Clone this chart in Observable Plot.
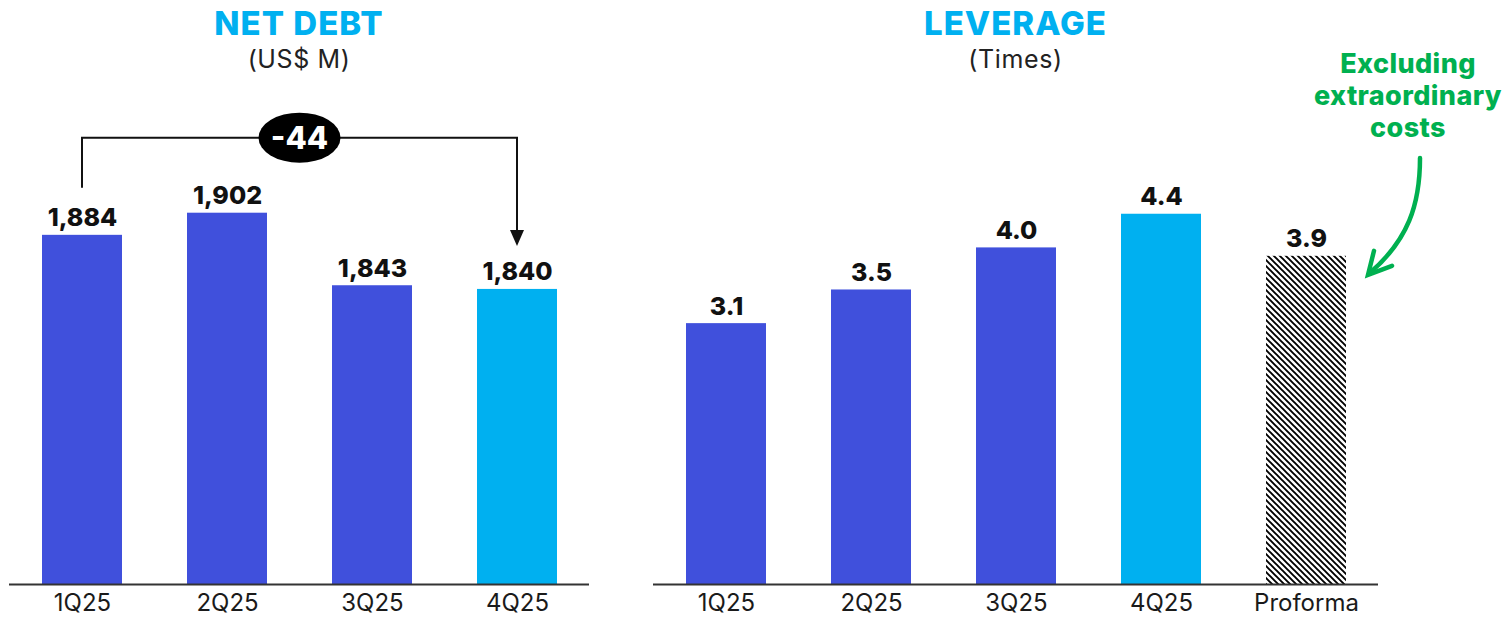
<!DOCTYPE html>
<html>
<head>
<meta charset="utf-8">
<script src="https://cdn.jsdelivr.net/npm/d3@7"></script>
<script src="https://cdn.jsdelivr.net/npm/@observablehq/plot@0.6"></script>
<style>
  html, body { margin: 0; padding: 0; background: #fff; }
  #wrap { position: relative; width: 1510px; height: 617px; overflow: hidden; font-family: Inter, "Noto Sans", sans-serif; }
  .panel { position: absolute; top: 0; }
  .title { position: absolute; text-align: center; font-weight: 800; color: #00B0F0; font-size: 33px; line-height: 36px; letter-spacing: 1px; pointer-events: none; }
  .sub { position: absolute; text-align: center; font-weight: 400; color: #222; font-size: 25px; line-height: 28px; letter-spacing: 0.6px; pointer-events: none; }
</style>
</head>
<body>
<div id="wrap">
  <div class="panel" id="left" style="left:0px"></div>
  <div class="panel" id="right" style="left:640px"></div>
  <div class="title" style="left:0;width:598px;top:5px">NET DEBT</div>
  <div class="sub" style="left:0;width:598px;top:45px">(US$ M)</div>
  <div class="title" style="left:653px;width:725px;top:5px">LEVERAGE</div>
  <div class="sub" style="left:653px;width:725px;top:45px">(Times)</div>
</div>
<script>
// ---- data ----
const debtQuarters = ["1Q25", "2Q25", "3Q25", "4Q25"];
const netDebt = [1884, 1902, 1843, 1840];
const netDebtAxisMin = 1600;
const netDebtAxisMax = 2075;

const leverageCategories = ["1Q25", "2Q25", "3Q25", "4Q25", "Proforma"];
const leverage = [3.1, 3.5, 4.0, 4.4, 3.9];
const leverageAxisMax = 6.94;

const noteLines = ["Excluding", "extraordinary", "costs"];

// ---- styles ----
const BLUE = "#4050DC", CYAN = "#00B0F0", GREEN = "#00B050", INK = "#111";
const FONT = "Inter, 'Noto Sans', sans-serif";

const debtData = debtQuarters.map((q, i) => ({q, v: netDebt[i]}));
const levData = leverageCategories.map((q, i) => ({q, v: leverage[i]}));

function fillFor(q) {
  if (q === "4Q25") return CYAN;
  if (q === "Proforma") return "url(#hatch)";
  return BLUE;
}

// ---- left chart: Net debt ----
const left = Plot.plot({
  width: 600, height: 617,
  marginLeft: 9, marginRight: 11, marginTop: 0, marginBottom: 33,
  style: {fontFamily: FONT, background: "transparent", overflow: "visible"},
  x: {domain: debtQuarters, paddingInner: 0.45, paddingOuter: 0.225, label: null},
  y: {domain: [netDebtAxisMin, netDebtAxisMax], axis: null},
  marks: [
    Plot.barY(debtData, {x: "q", y1: () => netDebtAxisMin, y2: "v", fill: d => fillFor(d.q)}),
    Plot.text(debtData, {x: "q", y: "v", text: d => d3.format(",")(d.v), dy: -9, lineAnchor: "bottom",
      fontSize: 25, fontWeight: 800, fill: INK}),
    Plot.ruleY([netDebtAxisMin], {stroke: "#333", strokeWidth: 2}),
    Plot.axisX({tickSize: 0, tickPadding: 9, fontSize: 24, label: null, fill: "#1a1a1a"})
  ]
});
document.getElementById("left").appendChild(left);

// bracket annotation for change
{
  const xs = left.scale("x"), ys = left.scale("y");
  const bw = xs.bandwidth;
  const first = debtData[0], last = debtData[debtData.length - 1];
  const maxV = d3.max(netDebt);
  const x1 = xs.apply(first.q) + bw / 2;
  const x4 = xs.apply(last.q) + bw / 2;
  const yStart = ys.apply(first.v) - 47;
  const yTop = ys.apply(maxV) - 75;
  const tip = ys.apply(last.v) - 43;
  const svg = d3.select(left);
  const g = svg.append("g");
  g.append("path")
    .attr("d", `M${x1},${yStart}V${yTop}H${x4}V${tip - 14}`)
    .attr("fill", "none").attr("stroke", INK).attr("stroke-width", 2);
  g.append("path")
    .attr("d", `M${x4 - 7},${tip - 16}L${x4 + 7},${tip - 16}L${x4},${tip}Z`)
    .attr("fill", INK);
  const cx = (x1 + x4) / 2;
  g.append("ellipse").attr("cx", cx).attr("cy", yTop).attr("rx", 41).attr("ry", 25).attr("fill", "#000");
  g.append("text").attr("x", cx).attr("y", yTop).attr("dy", "0.36em")
    .attr("text-anchor", "middle").attr("fill", "#fff")
    .attr("font-size", 31).attr("font-weight", 800).attr("font-family", FONT)
    .text(String(last.v - first.v));
}

// ---- right chart: Leverage ----
const right = Plot.plot({
  width: 870, height: 617,
  marginLeft: 13, marginRight: 132, marginTop: 0, marginBottom: 33,
  style: {fontFamily: FONT, background: "transparent", overflow: "visible"},
  x: {domain: leverageCategories, paddingInner: 0.45, paddingOuter: 0.225, label: null},
  y: {domain: [0, leverageAxisMax], axis: null},
  color: {type: "identity"},
  marks: [
    Plot.barY(levData, {x: "q", y: "v", fill: d => fillFor(d.q)}),
    Plot.text(levData, {x: "q", y: "v", text: d => d3.format(".1f")(d.v), dy: -9, lineAnchor: "bottom",
      fontSize: 25, fontWeight: 800, fill: INK}),
    Plot.ruleY([0], {stroke: "#333", strokeWidth: 2}),
    Plot.axisX({tickSize: 0, tickPadding: 9, fontSize: 24, label: null, fill: "#1a1a1a"})
  ]
});
document.getElementById("right").appendChild(right);

{
  const svg = d3.select(right);
  const defs = svg.insert("defs", ":first-child");
  const pat = defs.append("pattern").attr("id", "hatch").attr("patternUnits", "userSpaceOnUse")
    .attr("width", 6).attr("height", 6);
  pat.append("rect").attr("width", 6).attr("height", 6).attr("fill", "#fff");
  pat.append("path").attr("d", "M0,0L6,6M-1,5L1,7M5,-1L7,1")
    .attr("stroke", "#000").attr("stroke-width", 1.9);

  const xs = right.scale("x"), ys = right.scale("y");
  const bw = xs.bandwidth;
  const pf = levData[levData.length - 1];
  const cx = xs.apply(pf.q) + bw / 2;
  const top = ys.apply(pf.v);
  const g = svg.append("g");
  const tx = cx + 102;
  g.append("text").attr("text-anchor", "middle").attr("fill", GREEN)
    .attr("font-size", 27).attr("font-weight", 800).attr("font-family", FONT)
    .attr("letter-spacing", 0.4)
    .selectAll("tspan").data(noteLines).join("tspan")
    .attr("x", tx).attr("y", (d, i) => 73 + i * 32).text(d => d);
  // curved arrow
  const sx = cx + 114, sy = 158, ex = cx + 62, ey = top + 19;
  g.append("path")
    .attr("d", `M${sx},${sy}C${sx},${sy + 47} ${sx - 12},${sy + 82} ${ex + 2},${ey - 2}`)
    .attr("fill", "none").attr("stroke", GREEN).attr("stroke-width", 4.5).attr("stroke-linecap", "round");
  g.append("path")
    .attr("d", `M${ex + 6},${ey - 24}L${ex},${ey}L${ex + 24},${ey - 9}`)
    .attr("fill", "none").attr("stroke", GREEN).attr("stroke-width", 4.5)
    .attr("stroke-linejoin", "miter").attr("stroke-linecap", "round");
}
</script>
</body>
</html>
